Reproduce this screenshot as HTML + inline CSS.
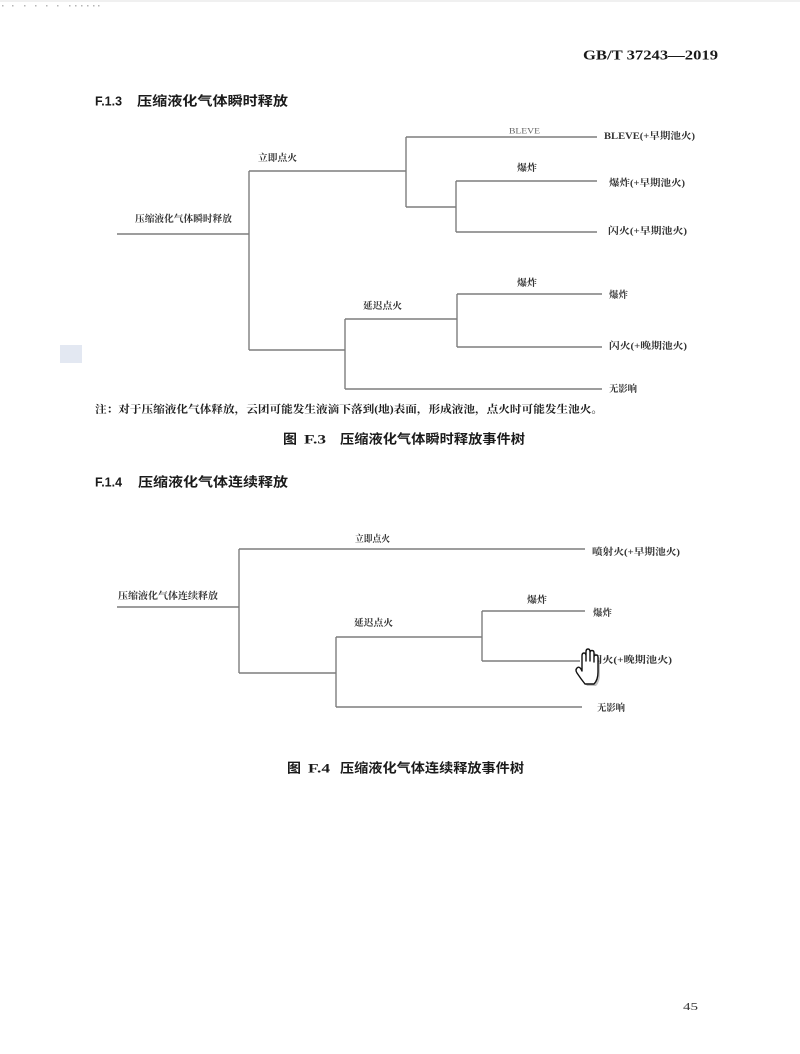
<!DOCTYPE html>
<html>
<head>
<meta charset="utf-8">
<style>
  html,body{margin:0;padding:0;background:#fff;}
  body{width:800px;height:1054px;overflow:hidden;}
  svg{display:block;}
  .lbl{font-family:"Liberation Serif","Noto Serif CJK SC",serif;font-size:9.5px;font-weight:bold;fill:#333;}
  .hd{font-family:"Liberation Sans","Noto Sans CJK SC",sans-serif;font-size:13px;font-weight:bold;fill:#1a1a1a;}
  .note{font-family:"Liberation Serif","Noto Serif CJK SC",serif;font-size:10.5px;font-weight:bold;fill:#1e1e1e;}
  .ln{stroke:#7d7d7d;stroke-width:1.4;fill:none;}
</style>
</head>
<body>
<svg width="800" height="1054" viewBox="0 0 800 1054" xmlns="http://www.w3.org/2000/svg">
  <rect x="0" y="0" width="800" height="1054" fill="#fff"/>
  <rect x="0" y="0" width="800" height="2" fill="#f0f0f0"/>
  <!-- top-left dots -->
  <g fill="#b5b5b5">
    <rect x="2" y="5" width="1.5" height="1.5"/>
    <rect x="12" y="5" width="1.5" height="1.5"/>
    <rect x="24" y="5" width="1.5" height="1.5"/>
    <rect x="35" y="5" width="1.5" height="1.5"/>
    <rect x="46" y="5" width="1.5" height="1.5"/>
    <rect x="57" y="5" width="1.5" height="1.5"/>
    <rect x="69" y="5" width="1.5" height="1.5"/>
    <rect x="75" y="5" width="1.5" height="1.5"/>
    <rect x="81" y="5" width="1.5" height="1.5"/>
    <rect x="87" y="5" width="1.5" height="1.5"/>
    <rect x="93" y="5" width="1.5" height="1.5"/>
    <rect x="98" y="5" width="1.5" height="1.5"/>
  </g>

  <!-- header -->
  <text x="583" y="56" class="hd" dominant-baseline="central" textLength="135" lengthAdjust="spacingAndGlyphs" style="font-size:14px;font-family:'Liberation Serif',serif">GB/T 37243—2019</text>

  <!-- F.1.3 heading -->
  <text x="95" y="101" class="hd" dominant-baseline="central" textLength="27" lengthAdjust="spacingAndGlyphs">F.1.3</text>
  <text x="137" y="101" class="hd" dominant-baseline="central" textLength="151" lengthAdjust="spacingAndGlyphs">压缩液化气体瞬时释放</text>

  <!-- left blob -->
  <rect x="60" y="345" width="22" height="18" fill="#e3e8f2"/>

  <!-- ===== Diagram 1 ===== -->
  <g class="ln">
    <line x1="117" y1="234" x2="249" y2="234"/>
    <line x1="249" y1="171" x2="249" y2="350"/>
    <line x1="249" y1="171" x2="406" y2="171"/>
    <line x1="406" y1="137" x2="406" y2="207"/>
    <line x1="406" y1="137" x2="597" y2="137"/>
    <line x1="406" y1="207" x2="456" y2="207"/>
    <line x1="456" y1="181" x2="456" y2="232"/>
    <line x1="456" y1="181" x2="597" y2="181"/>
    <line x1="456" y1="232" x2="597" y2="232"/>
    <line x1="249" y1="350" x2="345" y2="350"/>
    <line x1="345" y1="319" x2="345" y2="389"/>
    <line x1="345" y1="319" x2="457" y2="319"/>
    <line x1="457" y1="294" x2="457" y2="347"/>
    <line x1="457" y1="294" x2="602" y2="294"/>
    <line x1="457" y1="347" x2="602" y2="347"/>
    <line x1="345" y1="389" x2="602" y2="389"/>
  </g>
  <g dominant-baseline="central">
    <text x="135" y="220" class="lbl" textLength="97" lengthAdjust="spacingAndGlyphs">压缩液化气体瞬时释放</text>
    <text x="258" y="159" class="lbl" textLength="39" lengthAdjust="spacingAndGlyphs">立即点火</text>
    <text x="509" y="131" class="lbl" textLength="31" lengthAdjust="spacingAndGlyphs" style="font-size:8px;font-weight:normal;fill:#666">BLEVE</text>
    <text x="604" y="137" class="lbl" textLength="91" lengthAdjust="spacingAndGlyphs">BLEVE(+早期池火)</text>
    <text x="517" y="169" class="lbl" textLength="20" lengthAdjust="spacingAndGlyphs">爆炸</text>
    <text x="609" y="184" class="lbl" textLength="76" lengthAdjust="spacingAndGlyphs">爆炸(+早期池火)</text>
    <text x="608" y="232" class="lbl" textLength="79" lengthAdjust="spacingAndGlyphs">闪火(+早期池火)</text>
    <text x="363" y="307" class="lbl" textLength="39" lengthAdjust="spacingAndGlyphs">延迟点火</text>
    <text x="517" y="284" class="lbl" textLength="20" lengthAdjust="spacingAndGlyphs">爆炸</text>
    <text x="609" y="296" class="lbl" textLength="19" lengthAdjust="spacingAndGlyphs">爆炸</text>
    <text x="609" y="347" class="lbl" textLength="78" lengthAdjust="spacingAndGlyphs">闪火(+晚期池火)</text>
    <text x="609" y="390" class="lbl" textLength="28" lengthAdjust="spacingAndGlyphs">无影响</text>
  </g>

  <!-- note -->
  <text x="95" y="410" class="note" dominant-baseline="central" textLength="508" lengthAdjust="spacingAndGlyphs">注：对于压缩液化气体释放，云团可能发生液滴下落到(地)表面，形成液池，点火时可能发生池火。</text>

  <!-- Fig F.3 title -->
  <text x="283" y="439" class="hd" dominant-baseline="central" textLength="14" lengthAdjust="spacingAndGlyphs">图</text>
  <text x="304" y="439" class="hd" dominant-baseline="central" textLength="22" lengthAdjust="spacingAndGlyphs" style="font-family:'Liberation Serif',serif">F.3</text>
  <text x="340" y="439" class="hd" dominant-baseline="central" textLength="185" lengthAdjust="spacingAndGlyphs">压缩液化气体瞬时释放事件树</text>

  <!-- F.1.4 heading -->
  <text x="95" y="482" class="hd" dominant-baseline="central" textLength="27" lengthAdjust="spacingAndGlyphs">F.1.4</text>
  <text x="138" y="482" class="hd" dominant-baseline="central" textLength="150" lengthAdjust="spacingAndGlyphs">压缩液化气体连续释放</text>

  <!-- ===== Diagram 2 ===== -->
  <g class="ln">
    <line x1="117" y1="607" x2="239" y2="607"/>
    <line x1="239" y1="549" x2="239" y2="673"/>
    <line x1="239" y1="549" x2="585" y2="549"/>
    <line x1="239" y1="673" x2="336" y2="673"/>
    <line x1="336" y1="637" x2="336" y2="707"/>
    <line x1="336" y1="637" x2="482" y2="637"/>
    <line x1="482" y1="611" x2="482" y2="661"/>
    <line x1="482" y1="611" x2="585" y2="611"/>
    <line x1="482" y1="661" x2="580" y2="661"/>
    <line x1="336" y1="707" x2="582" y2="707"/>
  </g>
  <g dominant-baseline="central">
    <text x="118" y="597" class="lbl" textLength="100" lengthAdjust="spacingAndGlyphs">压缩液化气体连续释放</text>
    <text x="355" y="540" class="lbl" textLength="35" lengthAdjust="spacingAndGlyphs">立即点火</text>
    <text x="592" y="553" class="lbl" textLength="88" lengthAdjust="spacingAndGlyphs">喷射火(+早期池火)</text>
    <text x="354" y="624" class="lbl" textLength="39" lengthAdjust="spacingAndGlyphs">延迟点火</text>
    <text x="527" y="601" class="lbl" textLength="20" lengthAdjust="spacingAndGlyphs">爆炸</text>
    <text x="593" y="614" class="lbl" textLength="19" lengthAdjust="spacingAndGlyphs">爆炸</text>
    <text x="591" y="661" class="lbl" textLength="81" lengthAdjust="spacingAndGlyphs">闪火(+晚期池火)</text>
    <text x="597" y="709" class="lbl" textLength="28" lengthAdjust="spacingAndGlyphs">无影响</text>
  </g>

  <!-- hand cursor -->
  <g transform="translate(572,648)">
    <path d="M10,16 L10,8 Q10,5 12,5 Q14,5 14,8 L14,13 L14,4 Q14,1 16,1 Q18,1 18,4 L18,13 L18,5 Q18,2.5 20,2.5 Q22,2.5 22,5 L22,14 L22,9 Q22,7 24,7 Q26,7 26,9 L26,24 Q26,32 22,36 L13,36 Q9,31 5,25 Q3,22 5,20 Q7,18 9,21 L10,23 Z" fill="#9a9a9a" opacity="0.6" transform="translate(2,2)"/>
    <path d="M10,16 L10,8 Q10,5 12,5 Q14,5 14,8 L14,13 L14,4 Q14,1 16,1 Q18,1 18,4 L18,13 L18,5 Q18,2.5 20,2.5 Q22,2.5 22,5 L22,14 L22,9 Q22,7 24,7 Q26,7 26,9 L26,24 Q26,32 22,36 L13,36 Q9,31 5,25 Q3,22 5,20 Q7,18 9,21 L10,23 Z" fill="#fff" stroke="#111" stroke-width="1.4" stroke-linejoin="round"/>
  </g>

  <!-- Fig F.4 title -->
  <text x="287" y="768" class="hd" dominant-baseline="central" textLength="14" lengthAdjust="spacingAndGlyphs">图</text>
  <text x="308" y="768" class="hd" dominant-baseline="central" textLength="22" lengthAdjust="spacingAndGlyphs" style="font-family:'Liberation Serif',serif">F.4</text>
  <text x="340" y="768" class="hd" dominant-baseline="central" textLength="184" lengthAdjust="spacingAndGlyphs">压缩液化气体连续释放事件树</text>

  <!-- page number -->
  <text x="683" y="1007" dominant-baseline="central" textLength="15" lengthAdjust="spacingAndGlyphs" style="font-family:'Liberation Serif',serif;font-size:11px;fill:#333">45</text>
</svg>
</body>
</html>
